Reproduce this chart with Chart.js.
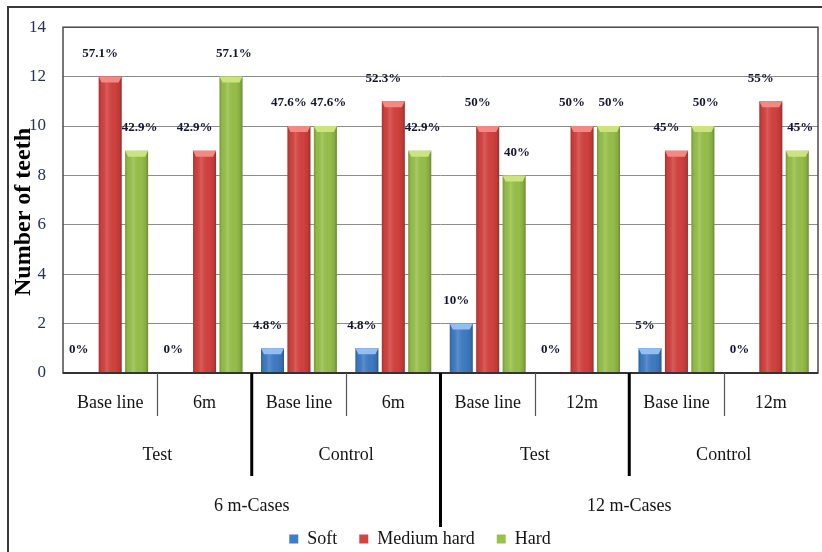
<!DOCTYPE html>
<html>
<head>
<meta charset="utf-8">
<script src="https://cdn.jsdelivr.net/npm/chart.js@4/dist/chart.umd.min.js"></script>
<style>
  html, body { margin: 0; padding: 0; background: #ffffff; }
  #wrap { width: 822px; height: 552px; }
</style>
</head>
<body>
<div id="wrap"><canvas id="c" width="822" height="552"></canvas></div>
<script>
// Time points per group
const timeLabels = ['Base line', '6m', 'Base line', '6m', 'Base line', '12m', 'Base line', '12m'];
// Study arms (each spans two time points)
const armLabels = ['Test', 'Control', 'Test', 'Control'];
// Follow-up cohorts (each spans four time points)
const cohortLabels = ['6 m-Cases', '12 m-Cases'];

// Number of teeth per hardness class
const softCounts   = [0, 0, 1, 1, 2, 0, 1, 0];
const mediumCounts = [12, 9, 10, 11, 10, 10, 9, 11];
const hardCounts   = [9, 12, 10, 9, 8, 10, 10, 9];

// Percentages printed above the bars
const softPct   = ['0%', '0%', '4.8%', '4.8%', '10%', '0%', '5%', '0%'];
const mediumPct = ['57.1%', '42.9%', '47.6%', '52.3%', '50%', '50%', '45%', '55%'];
const hardPct   = ['42.9%', '57.1%', '47.6%', '42.9%', '40%', '50%', '50%', '45%'];

const yTicks = [0, 2, 4, 6, 8, 10, 12, 14];

const SERIF = '"Liberation Serif", "Times New Roman", serif';

// Glassy shading over each bar: darker rims, a soft highlight and a bevelled cap
const barShading = {
  id: 'barShading',
  afterDatasetDraw(chart, args) {
    const ctx = chart.ctx;
    const caps = ['rgba(150,195,245,0.95)', 'rgba(245,140,135,0.95)', 'rgba(205,230,130,0.95)'];
    args.meta.data.forEach(el => {
      const { x, y, base, width } = el.getProps(['x', 'y', 'base', 'width'], true);
      const h = base - y;
      if (h <= 0.5) return;
      const l = x - width / 2, r = x + width / 2;
      ctx.save();
      const g = ctx.createLinearGradient(l, 0, r, 0);
      g.addColorStop(0, 'rgba(0,0,0,0.22)');
      g.addColorStop(0.12, 'rgba(0,0,0,0.04)');
      g.addColorStop(0.35, 'rgba(255,255,255,0.14)');
      g.addColorStop(0.7, 'rgba(0,0,0,0.02)');
      g.addColorStop(0.9, 'rgba(0,0,0,0.12)');
      g.addColorStop(1, 'rgba(0,0,0,0.3)');
      ctx.fillStyle = g;
      ctx.fillRect(l, y, width, h);
      // bevelled top
      const cap = Math.min(6, h);
      ctx.beginPath();
      ctx.moveTo(l, y);
      ctx.lineTo(r, y);
      ctx.lineTo(r - 3, y + cap);
      ctx.lineTo(l + 3, y + cap);
      ctx.closePath();
      ctx.fillStyle = caps[args.index];
      ctx.fill();
      ctx.restore();
    });
  }
};

// Percentage labels above each bar (each series nudged a little sideways)
const pctLabels = {
  id: 'pctLabels',
  afterDatasetsDraw(chart) {
    const ctx = chart.ctx;
    const sets = [softPct, mediumPct, hardPct];
    const nudge = [-5, -10, 3];
    ctx.save();
    ctx.font = 'bold 13px ' + SERIF;
    ctx.fillStyle = '#151530';
    ctx.textAlign = 'center';
    ctx.textBaseline = 'middle';
    chart.data.datasets.forEach((ds, di) => {
      const meta = chart.getDatasetMeta(di);
      meta.data.forEach((el, i) => {
        ctx.fillText(sets[di][i], el.x + nudge[di], el.y - 23);
      });
    });
    ctx.restore();
  }
};

// Frame, plot border, axis title and the grouped category labels
const decorations = {
  id: 'decorations',
  beforeDatasetsDraw(chart) {
    const { ctx, chartArea: a } = chart;
    ctx.save();
    ctx.strokeStyle = '#4a4a4a';
    ctx.lineWidth = 1.5;
    ctx.strokeRect(a.left, a.top, a.right - a.left, a.bottom - a.top);
    ctx.restore();
  },
  afterDraw(chart) {
    const { ctx, chartArea: a } = chart;
    const xs = chart.scales.x;
    const n = timeLabels.length;
    const edge = k => {
      if (k <= 0) return a.left;
      if (k >= n) return a.right;
      return (xs.getPixelForValue(k - 1) + xs.getPixelForValue(k)) / 2;
    };
    ctx.save();
    // outer frame
    ctx.strokeStyle = '#3a3a3a';
    ctx.lineWidth = 2;
    ctx.beginPath();
    ctx.moveTo(8, 553);
    ctx.lineTo(8, 7);
    ctx.lineTo(823, 7);
    ctx.stroke();

    // bottom axis line
    ctx.strokeStyle = '#333';
    ctx.lineWidth = 2;
    ctx.beginPath();
    ctx.moveTo(a.left, a.bottom);
    ctx.lineTo(a.right, a.bottom);
    ctx.stroke();

    // separators between time points
    ctx.strokeStyle = '#555';
    ctx.lineWidth = 1.2;
    [1, 3, 5, 7].forEach(k => {
      const x = Math.round(edge(k)) + 0.5;
      ctx.beginPath();
      ctx.moveTo(x, a.bottom);
      ctx.lineTo(x, a.bottom + 43);
      ctx.stroke();
    });
    // separators between arms and cohorts
    ctx.strokeStyle = '#000';
    ctx.lineWidth = 3;
    [[2, 103], [4, 154], [6, 103]].forEach(([k, len]) => {
      const x = edge(k);
      ctx.beginPath();
      ctx.moveTo(x, a.bottom);
      ctx.lineTo(x, a.bottom + len);
      ctx.stroke();
    });

    ctx.fillStyle = '#141414';
    ctx.textAlign = 'center';
    ctx.textBaseline = 'middle';
    ctx.font = '18px ' + SERIF;
    armLabels.forEach((t, i) => {
      const cx = (edge(2 * i) + edge(2 * i + 2)) / 2;
      ctx.fillText(t, cx, a.bottom + 82);
    });
    cohortLabels.forEach((t, i) => {
      const cx = (edge(4 * i) + edge(4 * i + 4)) / 2;
      ctx.fillText(t, cx, a.bottom + 133);
    });

    // y-axis title
    ctx.translate(23.5, 212);
    ctx.rotate(-Math.PI / 2);
    ctx.font = 'bold 24px ' + SERIF;
    ctx.fillStyle = '#000';
    ctx.fillText('Number of teeth', 0, 0);
    ctx.restore();
  }
};

new Chart(document.getElementById('c'), {
  type: 'bar',
  data: {
    labels: timeLabels,
    datasets: [
      { label: 'Soft', data: softCounts, backgroundColor: '#3f7dc6' },
      { label: 'Medium hard', data: mediumCounts, backgroundColor: '#d5423f' },
      { label: 'Hard', data: hardCounts, backgroundColor: '#98c24a' }
    ]
  },
  options: {
    responsive: false,
    animation: false,
    devicePixelRatio: 1,
    layout: { padding: { top: 24, left: 22, right: 4, bottom: -6 } },
    datasets: { bar: { categoryPercentage: 0.84, barPercentage: 0.87, borderWidth: 0 } },
    plugins: {
      legend: {
        position: 'bottom',
        labels: {
          boxWidth: 9,
          boxHeight: 9,
          padding: 22,
          color: '#141414',
          font: { family: SERIF, size: 18 }
        }
      },
      tooltip: { enabled: false }
    },
    scales: {
      x: {
        grid: { display: false, drawTicks: false },
        border: { display: false },
        ticks: {
          color: '#141414',
          font: { family: SERIF, size: 18 },
          padding: 19,
          maxRotation: 0,
          autoSkip: false
        },
        afterFit: s => { s.height = 135; }
      },
      y: {
        min: 0,
        max: 14,
        afterBuildTicks: s => { s.ticks = yTicks.map(v => ({ value: v })); },
        grid: { color: '#8c8c8c', lineWidth: 1, drawTicks: false },
        border: { display: false },
        ticks: {
          color: '#22305a',
          font: { family: SERIF, size: 17 },
          padding: 17
        },
        afterFit: s => { s.width = 41; }
      }
    }
  },
  plugins: [barShading, pctLabels, decorations]
});
</script>
</body>
</html>
